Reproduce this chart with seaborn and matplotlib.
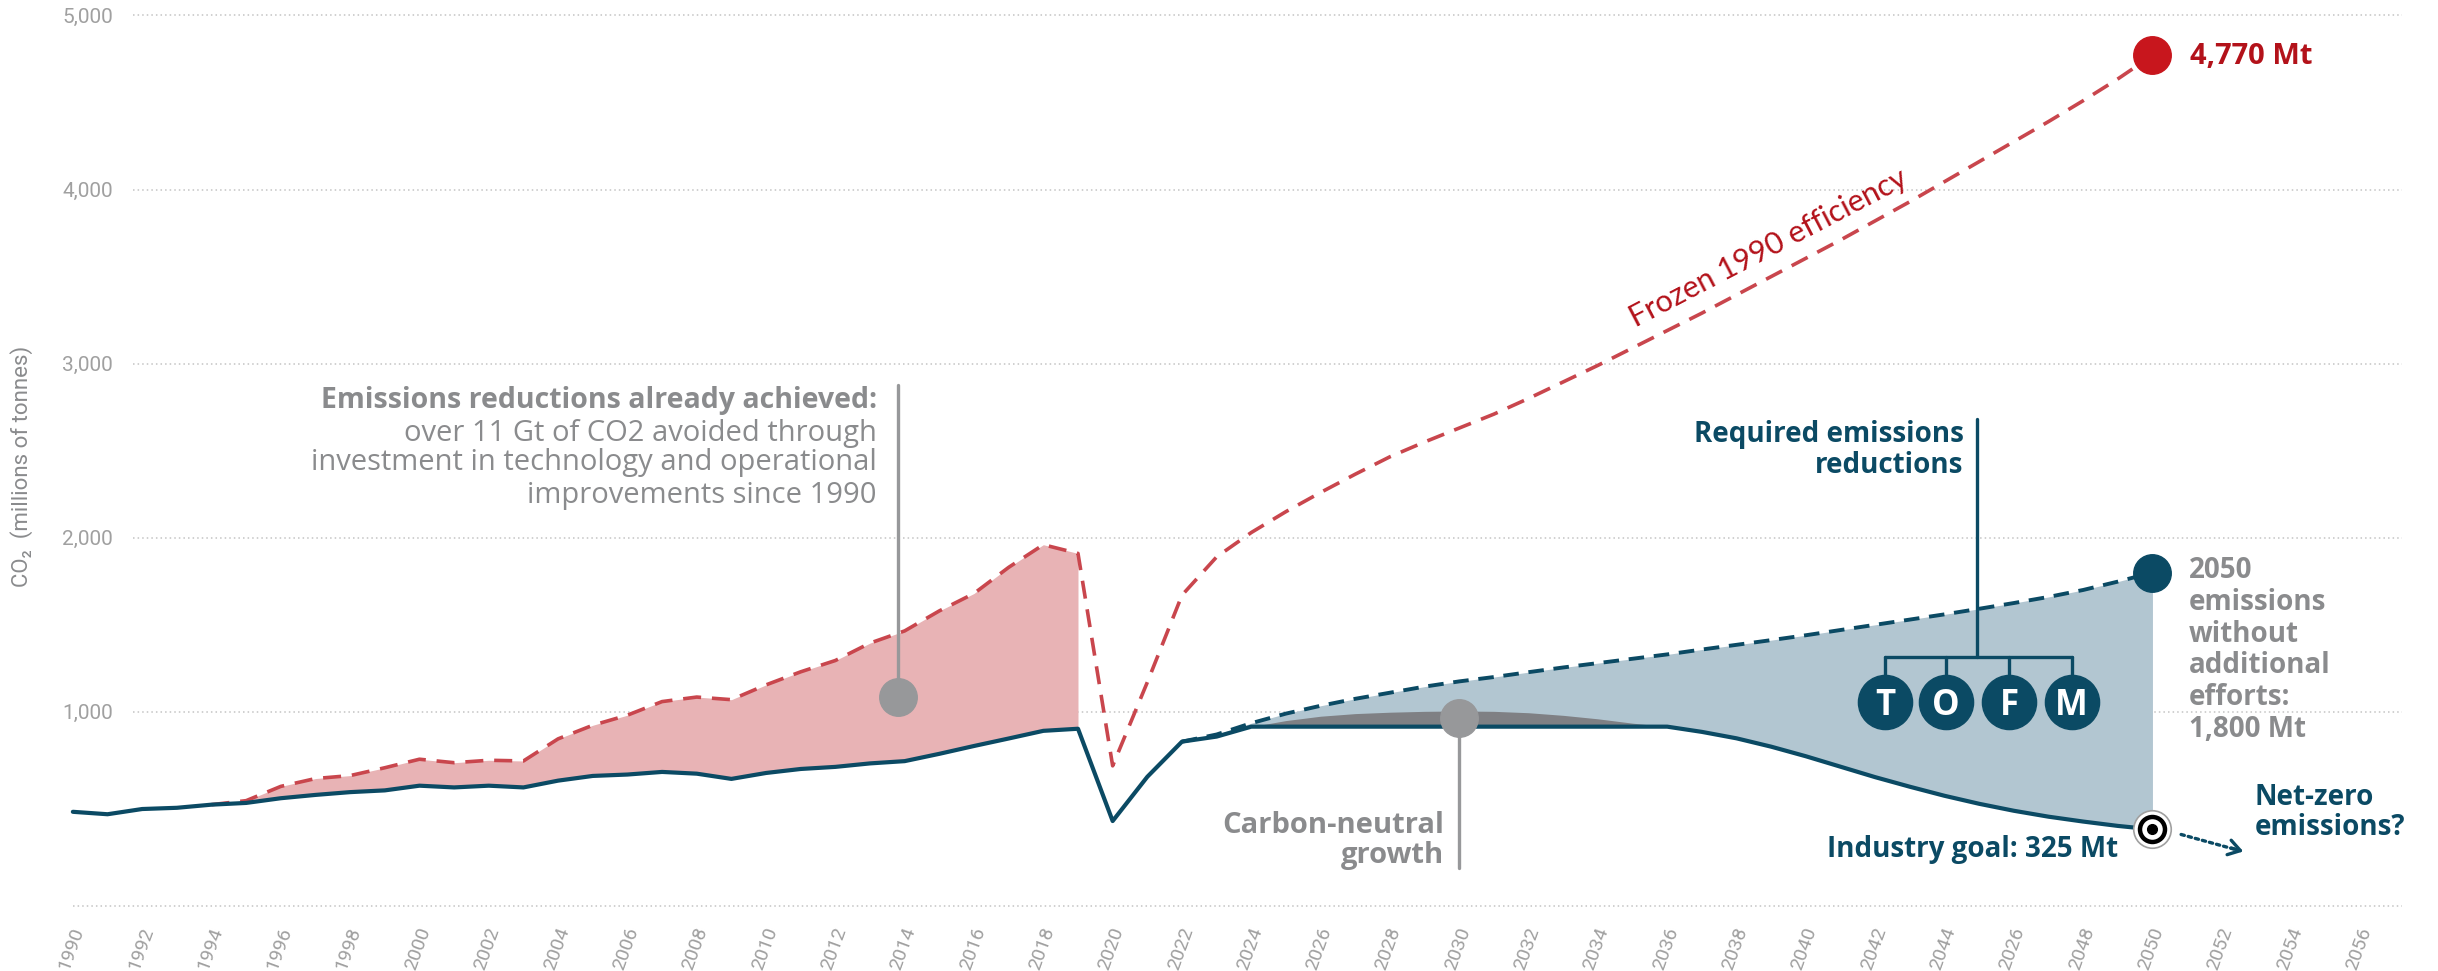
import matplotlib
matplotlib.use('Agg')
import matplotlib.pyplot as plt
from matplotlib import font_manager
from matplotlib.transforms import ScaledTranslation
import seaborn as sns
import pandas as pd

# Data (million tonnes CO2)
years = list(range(1990, 2051))
actual = [426, 412, 442, 449, 467, 477, 504, 523, 539, 549,
          576, 566, 576, 566, 605, 632, 640, 655, 645, 615,
          649, 672, 684, 704, 717, 759, 804, 847, 891, 903,
          373, 627, 829, 858, 915, 915, 915, 915, 915, 915,
          915, 915, 915, 915, 915, 915, 915, 885, 848, 800,
          745, 685, 625, 570, 518, 472, 432, 398, 370, 345,
          325]

frozen_years = list(range(1994, 2051))
frozen = [467, 490, 572, 617, 634, 679,
          728, 708, 722, 718, 845, 923, 981, 1059, 1085, 1070,
          1155, 1230, 1295, 1395, 1465, 1580, 1680, 1830, 1960, 1910,
          690, 1170, 1670, 1890, 2030, 2150, 2260, 2365, 2465, 2550,
          2630, 2710, 2800, 2895, 2990, 3090, 3190, 3290, 3395, 3500,
          3605, 3710, 3820, 3930, 4045, 4160, 4275, 4390, 4510, 4635,
          4770]

baseline_years = list(range(2022, 2051))
baseline = [829, 870, 935, 990, 1035, 1075, 1110, 1145,
            1175, 1200, 1228, 1255, 1280, 1305, 1330, 1358, 1385, 1412,
            1440, 1470, 1500, 1530, 1560, 1592, 1625, 1660, 1700, 1748,
            1800]

cng_years = list(range(2024, 2037))
cng = [915, 950, 975, 990, 998, 1003, 1005, 1003, 995, 980, 960, 935, 915]

xtick_years = list(range(1990, 2057, 2))
xtick_labels = ['1990', '1992', '1994', '1996', '1998', '2000', '2002', '2004',
                '2006', '2008', '2010', '2012', '2014', '2016', '2018', '2020',
                '2022', '2024', '2026', '2028', '2030', '2032', '2034', '2036',
                '2038', '2040', '2042', '2044', '2026', '2048', '2050', '2052',
                '2054', '2056']
ytick_vals = [1000, 2000, 3000, 4000, 5000]
ytick_labels = ['1,000', '2,000', '3,000', '4,000', '5,000']

# Colours
NAVY = '#0b4a64'
RED = '#c9464d'
RED_DARK = '#b3121a'
RED_DOT = '#c8161d'
PINK = '#e8b3b5'
BLUE_FILL = '#b2c6d1'
GREY_FILL = '#7f8084'
GREY = '#8a8b8d'
GREY_DOT = '#97989a'
GRID = '#c4c4c4'
TICK = '#a0a0a0'

sns.set_theme(style='white')
names = {f.name for f in font_manager.fontManager.ttflist}
NARROW = 'Liberation Sans Narrow' if 'Liberation Sans Narrow' in names else 'Roboto'
TEXT = 'Open Sans' if 'Open Sans' in names else 'Roboto'
plt.rcParams['font.family'] = [TEXT, 'DejaVu Sans']

fig = plt.figure(figsize=(24.38, 9.71), dpi=100)
ax = fig.add_axes([59 / 2438, 65 / 971, 2343 / 2438, 892 / 971])
ax.set_xlim(1989.6, 2057.2)
ax.set_ylim(-115, 5008)

df = pd.DataFrame({'year': years, 'actual': actual})
fz = pd.DataFrame({'year': frozen_years, 'frozen': frozen}).merge(df, on='year')
bl = pd.DataFrame({'year': baseline_years, 'baseline': baseline}).merge(df, on='year')
cn = pd.DataFrame({'year': cng_years, 'cng': cng}).merge(df, on='year')
past = fz[fz.year <= 2019]

# gridlines
ax.hlines(ytick_vals, 1991.73, 2057.2, colors=GRID, linestyles=(0, (1, 2)), lw=1.1, zorder=0, clip_on=False)
ax.hlines([-115], 1990, 2057.2, colors=GRID, linestyles=(0, (1, 2)), lw=1.1, zorder=0, clip_on=False)

# areas
ax.fill_between(past.year, past.actual, past.frozen, color=PINK, lw=0, zorder=1)
ax.fill_between(bl.year, bl.actual, bl.baseline, color=BLUE_FILL, lw=0, zorder=1)
ax.fill_between(cn.year, cn.actual, cn.cng, color=GREY_FILL, lw=0, zorder=2)

# lines
sns.lineplot(data=fz, x='year', y='frozen', color=RED, lw=2.6, linestyle=(0, (5, 3)),
             errorbar=None, ax=ax, zorder=3)
sns.lineplot(data=bl, x='year', y='baseline', color=NAVY, lw=2.8, linestyle=(0, (4, 2.5)),
             errorbar=None, ax=ax, zorder=3)
sns.lineplot(data=df, x='year', y='actual', color=NAVY, lw=3, errorbar=None, ax=ax, zorder=4)

# end markers
ax.plot(frozen_years[-1], frozen[-1], 'o', ms=27, color=RED_DOT, zorder=6)
ax.plot(baseline_years[-1], baseline[-1], 'o', ms=27, color=NAVY, zorder=6)
ax.plot(years[-1], actual[-1], 'o', ms=27, mfc='white', mec='#a0a0a0', mew=1.2, zorder=6)
ax.plot(years[-1], actual[-1], 'o', ms=18, mfc='white', mec='black', mew=3.2, zorder=7)
ax.plot(years[-1], actual[-1], 'o', ms=7, color='black', zorder=8)

# annotation pins
ax.plot([2013.8, 2013.8], [1083, 2880], color=GREY_DOT, lw=2.4, zorder=5)
ax.plot(2013.8, 1083, 'o', ms=27, color=GREY_DOT, zorder=6)
ax.plot([2030, 2030], [103, 965], color=GREY_DOT, lw=2.4, zorder=5)
ax.plot(2030, 965, 'o', ms=27, color=GREY_DOT, zorder=6)

# required reductions tree
levers = ['T', 'O', 'F', 'M']
lever_x = [2042.28, 2044.04, 2045.86, 2047.67]
ax.plot([2044.95, 2044.95], [1315, 2682], color=NAVY, lw=2.4, zorder=5)
ax.plot([lever_x[0], lever_x[-1]], [1315, 1315], color=NAVY, lw=2.4, zorder=5)
for lx, letter in zip(lever_x, levers):
    ax.plot([lx, lx], [1058, 1315], color=NAVY, lw=2.4, zorder=5)
    ax.plot(lx, 1058, 'o', ms=39, color=NAVY, zorder=6)
    ax.text(lx, 1058, letter, color='white', fontsize=25, fontweight='bold',
            ha='center', va='center_baseline', zorder=7)

# net-zero arrow
ax.annotate('', xy=(2052.55, 201), xytext=(2050.75, 300),
            arrowprops=dict(arrowstyle='-', ls=(0, (1, 1.2)), lw=2.4, color=NAVY))
ax.annotate('', xy=(2052.7, 194), xytext=(2052.2, 222),
            arrowprops=dict(arrowstyle='->,head_length=0.7,head_width=0.45', lw=2.4, color=NAVY))


def label(x, y, s, color, weight='bold', ha='left', size=20):
    ax.text(x, y, s, color=color, fontweight=weight, ha=ha, va='baseline',
            fontsize=size, zorder=9)


label(2013.2, 2745, 'Emissions reductions already achieved:', GREY, ha='right', size=20.5)
label(2013.2, 2556, 'over 11 Gt of CO2 avoided through', GREY, weight='normal', ha='right', size=21)
label(2013.2, 2389, 'investment in technology and operational', GREY, weight='normal', ha='right', size=21)
label(2013.2, 2200, 'improvements since 1990', GREY, weight='normal', ha='right', size=21)

label(2029.55, 304, 'Carbon-neutral', GREY, ha='right', size=21)
label(2029.55, 132, 'growth', GREY, ha='right', size=21)

label(2044.55, 2552, 'Required emissions', NAVY, ha='right')
label(2044.55, 2371, 'reductions', NAVY, ha='right')

for yv, s in zip([1769, 1585, 1403, 1223, 1039, 857],
                 ['2050', 'emissions', 'without', 'additional', 'efforts:', '1,800 Mt']):
    label(2051.05, yv, s, GREY)

label(2049.0, 168, 'Industry goal: 325 Mt', NAVY, ha='right')
label(2052.95, 465, 'Net-zero', NAVY)
label(2052.95, 293, 'emissions?', NAVY)
label(2051.08, 4721, '4,770 Mt', RED_DARK, size=21)

ax.text(2035.08, 3205, 'Frozen 1990 efficiency', color=RED_DARK, fontsize=22,
        family=['Lato', 'DejaVu Sans'], rotation=27.6, rotation_mode='anchor',
        ha='left', va='baseline', zorder=9)

# axes styling
for s in ax.spines.values():
    s.set_visible(False)
ax.set_yticks(ytick_vals, ytick_labels)
ax.tick_params(axis='y', length=0, pad=-39, labelsize=15, labelcolor=TICK)
for t in ax.get_yticklabels():
    t.set_family([NARROW, 'DejaVu Sans'])
ax.set_xticks(xtick_years, xtick_labels)
ax.tick_params(axis='x', length=0, pad=16, labelsize=14, labelcolor=TICK)
shift = ScaledTranslation(0.06, 0, fig.dpi_scale_trans)
for t in ax.get_xticklabels():
    t.set_family([NARROW, 'DejaVu Sans'])
    t.set_rotation(70)
    t.set_ha('right')
    t.set_va('center')
    t.set_rotation_mode('anchor')
    t.set_transform(t.get_transform() + shift)
ax.set_xlabel('')
ax.set_ylabel('CO\u2082  (millions of tonnes)', color=GREY, fontsize=16,
              family=[NARROW, 'DejaVu Sans'])
ax.yaxis.set_label_coords(-0.011, 0.493)

fig.savefig('out.png', dpi=100)
